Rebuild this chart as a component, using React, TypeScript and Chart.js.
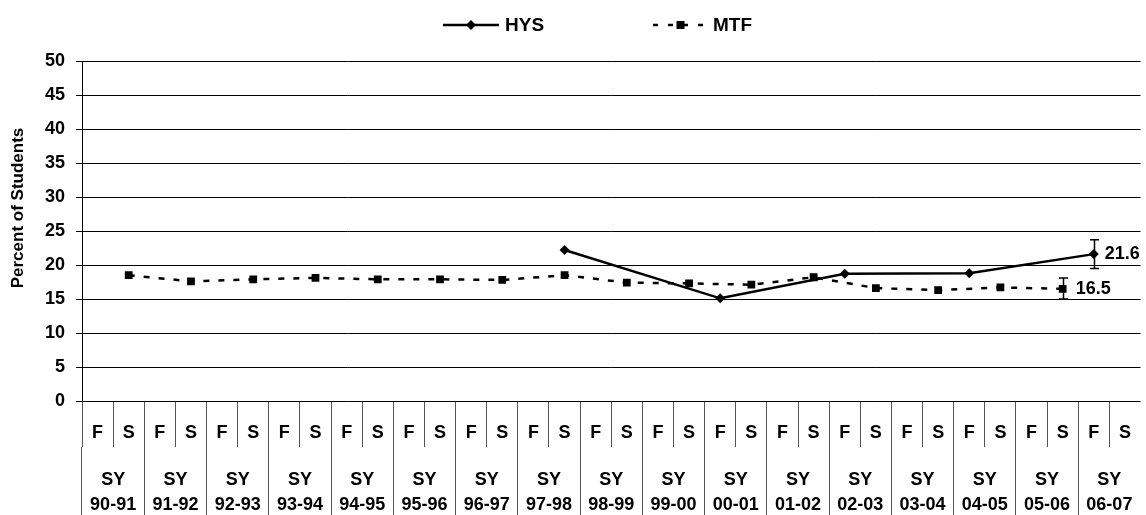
import { useEffect, useRef } from "react";
import { Chart, registerables } from "chart.js";

Chart.register(...registerables);

const FONT = "'Liberation Sans', Arial, Helvetica, sans-serif";

// School years (each split into Fall / Spring terms)
const schoolYears = [
  "90-91", "91-92", "92-93", "93-94", "94-95", "95-96", "96-97", "97-98", "98-99",
  "99-00", "00-01", "01-02", "02-03", "03-04", "04-05", "05-06", "06-07",
];
const terms = ["F", "S"];
const termLabels = schoolYears.flatMap(() => terms);
const yearLabels = schoolYears.map((y) => ["SY", y]);

// Series values, one slot per term (F, S of each school year)
const hysValues = [
  null, null, null, null, null, null, null, null, null, null, null, null, null, null, null, 22.2,
  null, null, null, null, 15.1, null, null, null, 18.7, null, null, null, 18.8, null, null, null,
  21.6, null,
];
const mtfValues = [
  null, 18.5, null, 17.6, null, 17.9, null, 18.1, null, 17.9, null, 17.9, null, 17.8, null, 18.5,
  null, 17.4, null, 17.3, null, 17.1, null, 18.2, null, 16.6, null, 16.3, null, 16.7, null, 16.5,
  null, null,
];

// Confidence intervals shown on the latest point of each series
const hysInterval = { index: 32, low: 19.5, high: 23.7 };
const mtfInterval = { index: 31, low: 15.0, high: 18.1 };

const yTicks = { min: 0, max: 50, step: 5 };
const seriesNames = ["HYS", "MTF"];
const yTitle = "Percent of Students";

export default function App() {
  const ref = useRef<HTMLCanvasElement>(null);

  useEffect(() => {
    document.body.style.margin = "0";
    const canvas = ref.current!;

    const overlay = {
      id: "overlay",
      beforeDatasetsDraw(chart: any) {
        const ctx = chart.ctx;
        const ys = chart.scales.y;
        ctx.save();
        ctx.strokeStyle = "#000";
        ctx.lineWidth = 1.5;
        [hysInterval, mtfInterval].forEach((iv, di) => {
          const pt = chart.getDatasetMeta(di).data[iv.index];
          const x = Math.round(pt.x) + 0.5;
          const y1 = ys.getPixelForValue(iv.low);
          const y2 = ys.getPixelForValue(iv.high);
          ctx.beginPath();
          ctx.moveTo(x, y1);
          ctx.lineTo(x, y2);
          ctx.moveTo(x - 4.5, y1);
          ctx.lineTo(x + 4.5, y1);
          ctx.moveTo(x - 4.5, y2);
          ctx.lineTo(x + 4.5, y2);
          ctx.stroke();
        });
        ctx.restore();
      },
      afterDatasetsDraw(chart: any) {
        const ctx = chart.ctx;
        ctx.save();
        ctx.fillStyle = "#000";
        ctx.font = `bold 18px ${FONT}`;
        ctx.textAlign = "left";
        ctx.textBaseline = "middle";
        [hysInterval, mtfInterval].forEach((iv, di) => {
          const pt = chart.getDatasetMeta(di).data[iv.index];
          const v = chart.data.datasets[di].data[iv.index];
          ctx.fillText(v.toFixed(1), pt.x + (di === 0 ? 11 : 13), pt.y);
        });
        ctx.restore();
      },
      afterDraw(chart: any) {
        const ctx = chart.ctx;
        ctx.save();
        // Legend
        const ly = 25;
        ctx.strokeStyle = "#000";
        ctx.fillStyle = "#000";
        ctx.lineWidth = 2.5;
        ctx.beginPath();
        ctx.moveTo(443, ly);
        ctx.lineTo(499, ly);
        ctx.stroke();
        ctx.beginPath();
        ctx.moveTo(471 - 5, ly);
        ctx.lineTo(471, ly - 5);
        ctx.lineTo(471 + 5, ly);
        ctx.lineTo(471, ly + 5);
        ctx.closePath();
        ctx.fill();
        ctx.setLineDash([5, 10]);
        ctx.beginPath();
        ctx.moveTo(653, ly);
        ctx.lineTo(708, ly);
        ctx.stroke();
        ctx.setLineDash([]);
        ctx.fillRect(676.5, ly - 4, 8, 8);
        ctx.font = `bold 19px ${FONT}`;
        ctx.textAlign = "left";
        ctx.textBaseline = "middle";
        ctx.fillText(seriesNames[0], 505, ly + 1);
        ctx.fillText(seriesNames[1], 713, ly + 1);
        // Y axis title
        ctx.translate(18.5, 208);
        ctx.rotate(-Math.PI / 2);
        ctx.textAlign = "center";
        ctx.font = `bold 17px ${FONT}`;
        ctx.fillText(yTitle, 0, 0);
        ctx.restore();
      },
    };

    const chart = new Chart(canvas, {
      type: "line",
      data: {
        labels: termLabels,
        datasets: [
          {
            label: seriesNames[0],
            data: hysValues,
            borderColor: "#000",
            backgroundColor: "#000",
            borderWidth: 2.5,
            pointStyle: "rectRot",
            pointRadius: 5,
            pointBorderWidth: 0,
            spanGaps: true,
            tension: 0,
          },
          {
            label: seriesNames[1],
            data: mtfValues,
            borderColor: "#000",
            backgroundColor: "#000",
            borderWidth: 2.5,
            borderDash: [6, 9],
            pointStyle: "rect",
            pointRadius: 5.5,
            pointBorderWidth: 0,
            spanGaps: true,
            tension: 0,
          },
        ],
      },
      options: {
        animation: false,
        responsive: false,
        devicePixelRatio: 1,
        layout: { padding: { top: 61, right: 4, left: 0, bottom: 0 } },
        plugins: {
          legend: { display: false },
          tooltip: { enabled: false },
        },
        scales: {
          x: {
            type: "category",
            position: "bottom",
            weight: 0,
            offset: true,
            afterFit: (s: any) => {
              s.height = 46;
            },
            grid: {
              offset: true,
              drawOnChartArea: false,
              drawTicks: true,
              tickLength: 46,
              lineWidth: 1,
              color: (c: any) => (c.type === "tick" ? "#555" : "rgba(0,0,0,0)"),
            },
            border: { display: false },
            ticks: {
              autoSkip: false,
              maxRotation: 0,
              minRotation: 0,
              padding: -24.5,
              color: "#000",
              font: { family: FONT, size: 18, weight: "bold", lineHeight: 1.2 },
            },
          },
          x2: {
            type: "category",
            position: "bottom",
            weight: 1,
            labels: yearLabels,
            offset: true,
            afterFit: (s: any) => {
              s.height = 68;
            },
            grid: {
              offset: true,
              drawOnChartArea: false,
              drawTicks: true,
              tickLength: 68,
              lineWidth: 1,
              color: (c: any) => (c.type === "tick" ? "#555" : "rgba(0,0,0,0)"),
            },
            border: { display: false },
            ticks: {
              autoSkip: false,
              maxRotation: 0,
              minRotation: 0,
              padding: -47,
              color: "#000",
              font: { family: FONT, size: 18, weight: "bold", lineHeight: 25 / 18 },
            },
          },
          y: {
            min: yTicks.min,
            max: yTicks.max,
            afterFit: (s: any) => {
              s.width = 82;
            },
            grid: {
              color: "#000",
              lineWidth: 1,
              tickLength: 6,
            },
            border: { display: true, color: "#000", width: 1 },
            ticks: {
              stepSize: yTicks.step,
              padding: 11,
              color: "#000",
              font: { family: FONT, size: 18, weight: "bold" },
            },
          },
        },
      },
      plugins: [overlay],
    } as any);

    return () => chart.destroy();
  }, []);

  return <canvas ref={ref} width={1146} height={515} style={{ display: "block" }} />;
}
